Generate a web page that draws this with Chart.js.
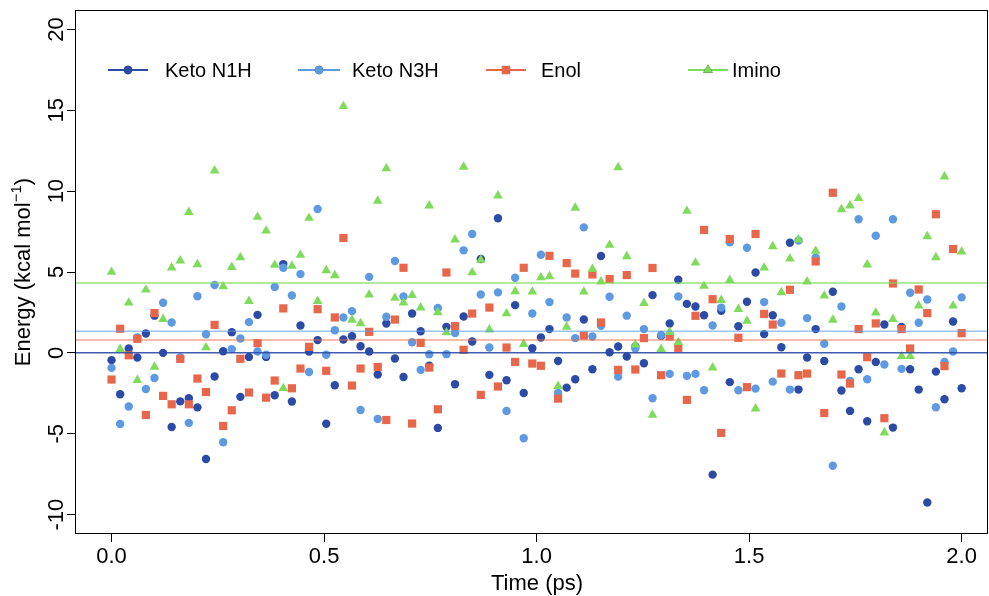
<!DOCTYPE html>
<html>
<head>
<meta charset="utf-8">
<script src="https://cdn.jsdelivr.net/npm/chart.js@4.4.1/dist/chart.umd.min.js"></script>
<style>
  html, body { margin: 0; padding: 0; background: #fff; }
</style>
</head>
<body>
<canvas id="myChart" width="989" height="596"></canvas>
<script>
// 100 snapshots from 0 to 2 ps
const times = Array.from({ length: 100 }, (_, i) => i * 2 / 99);

const ketoN1H = [
  -0.45, -2.56, 0.27, -0.29, 1.2, 2.3, 0.0, -4.58, -3.0, -2.8,
  -3.37, -6.56, -1.46, 0.1, 1.28, -2.72, -0.25, 2.35, -0.25, -2.62,
  5.49, -3.01, 1.69, 0.08, 0.79, -4.38, -2.0, 0.83, 1.03, 0.41,
  0.08, -1.34, 1.82, -0.35, -1.49, 2.43, 1.34, -0.8, -4.64, 1.61,
  -1.94, 2.25, 0.7, 5.8, -1.36, 8.32, -1.69, 2.95, -2.48, 0.29,
  0.95, 1.47, -0.5, -2.15, -1.63, 2.06, -1.01, 5.99, 0.04, 0.39,
  -0.23, 0.4, -0.64, 3.57, 1.05, 1.82, 4.52, 3.03, 2.87, 2.33,
  -7.53, 2.6, -1.81, 1.65, 3.16, 4.97, 1.16, 2.33, 0.35, 6.81,
  -2.27, -0.29, 1.47, -0.5, 3.78, -2.33, -3.59, -1.01, -4.23, -0.56,
  1.75, -4.62, 1.6, -1.01, -2.27, -9.25, -1.16, -2.87, 1.94, -2.19
];
const ketoN3H = [
  -0.93, -4.4, -3.32, 0.95, -2.23, -1.55, 3.1, 1.88, -0.29, -4.33,
  3.5, 1.15, 4.2, -5.53, 0.23, 0.89, 1.9, 0.08, -0.12, 4.07,
  5.26, 3.55, 4.87, -1.18, 8.9, -0.12, 1.4, 2.19, 2.58, -3.53,
  4.7, -4.09, 2.23, 5.68, 3.49, 0.66, -1.05, -0.08, 2.77, -0.08,
  1.22, 6.34, 7.35, 3.61, 0.33, 3.74, -3.59, 4.64, -5.28, 2.43,
  6.07, 3.14, -2.48, 2.19, 0.91, 7.76, 1.01, 1.67, 3.47, -1.47,
  2.3, 0.27, 1.47, -2.81, 1.1, -1.3, 3.49, -1.42, -1.3, -2.31,
  1.69, 2.8, 6.83, -2.31, 6.5, -2.21, 3.14, -1.78, 1.86, -2.27,
  6.95, 2.15, 5.9, 0.56, -6.98, 2.87, -1.73, 8.26, -1.63, 7.24,
  -0.72, 8.26, -0.99, 3.72, 1.86, 3.3, -3.36, -0.56, 0.08, 3.43
];
const enol = [
  -1.65, 1.49, -0.15, 0.87, -3.84, 2.46, -2.66, -3.18, -0.37, -3.18,
  -1.59, -2.42, 1.73, -4.52, -3.55, -0.37, -2.45, 0.6, -2.77, -1.71,
  2.75, -2.19, -0.97, 0.37, 2.7, -1.11, 2.19, 7.1, -2.02, -0.97,
  1.3, -0.87, -4.15, 2.06, 5.26, -4.37, 0.62, -0.91, -3.49, 4.97,
  1.65, 0.19, 2.43, -2.6, 2.8, -2.08, 0.33, -0.56, 5.26, -0.66,
  -0.8, 6.0, -2.83, 5.55, 4.9, 1.07, 4.85, 1.88, 4.56, -1.05,
  4.81, -1.03, 0.91, 5.25, -1.38, 1.01, 0.31, -2.91, 2.29, 7.6,
  3.32, -4.95, 7.04, 0.93, -2.12, 7.35, 2.41, 1.75, -1.28, 3.9,
  -1.38, -1.28, 5.65, -3.72, 9.9, -1.34, -1.9, 1.47, -0.27, 1.82,
  -4.04, 4.29, 1.47, 0.27, 3.92, 2.46, 8.57, -0.82, 6.42, 1.22
];
const imino = [
  5.0, 0.23, 3.1, -1.69, 3.9, -0.87, 2.08, 5.26, 5.7, 8.7,
  5.47, 0.33, 11.27, 4.1, 5.3, 5.9, 3.2, 8.4, 7.55, 5.43,
  -2.19, 5.37, 6.05, 8.34, 3.2, 5.1, 4.79, 15.25, 2.04, 1.82,
  3.59, 9.4, 11.4, 3.39, 3.1, 3.57, 2.8, 9.1, 2.5, 1.26,
  7.0, 11.5, 4.97, 5.75, 1.44, 9.72, 2.43, 3.8, 0.54, 3.78,
  4.66, 4.73, -2.06, 1.61, 8.96, 3.78, 5.18, 4.4, 6.67, 11.47,
  5.96, 0.5, 3.07, -3.84, 0.23, 1.28, 0.66, 8.77, 5.57, 4.13,
  -0.91, 3.26, 4.5, 2.7, 1.98, -3.45, 5.26, 6.58, 3.74, 5.82,
  7.0, 4.4, 6.3, 3.53, 2.04, 8.87, 9.1, 9.56, 5.45, 2.48,
  -4.93, 2.08, -0.21, -0.21, 2.91, 7.2, 5.9, 10.9, 2.91, 6.25
];

// average energy of each tautomer (horizontal lines)
const means = [0.0, 1.33, 0.8, 4.32];

const seriesNames = ["Keto N1H", "Keto N3H", "Enol", "Imino"];
const xTicks = [0, 0.5, 1, 1.5, 2];
const yTicks = [-10, -5, 0, 5, 10, 15, 20];

const colors = ["#2b4ba6", "#5e9ae2", "#e8674a", "#7fdb5c"];
const lineColors = ["rgba(43,75,166,0.9)", "rgba(94,154,226,0.6)", "rgba(232,103,74,0.6)", "rgba(127,219,92,0.8)"];
const styles = ["circle", "circle", "rect", "triangle"];
const radii = [4.2, 4.2, 5.8, 5.6];

const FONT = '"Liberation Sans", Arial, sans-serif';

const toPoints = (vals) => vals.map((v, i) => ({ x: times[i], y: v }));

const decorations = {
  id: "decorations",
  afterDatasetsDraw(chart) {
    const { ctx, chartArea: a, scales: { x, y } } = chart;
    ctx.save();
    // mean lines
    means.forEach((m, k) => {
      const py = y.getPixelForValue(m);
      ctx.strokeStyle = lineColors[k];
      ctx.lineWidth = 1.5;
      ctx.beginPath();
      ctx.moveTo(a.left, py);
      ctx.lineTo(a.right, py);
      ctx.stroke();
    });
    ctx.restore();
  },
  afterDraw(chart) {
    const { ctx, chartArea: a, scales: { x, y } } = chart;
    ctx.save();
    // box
    ctx.strokeStyle = "#000";
    ctx.lineWidth = 1;
    ctx.strokeRect(a.left + 0.5, a.top + 0.5, a.right - a.left - 1, a.bottom - a.top - 1);

    ctx.fillStyle = "#000";
    ctx.font = "22px " + FONT;
    // x tick labels
    ctx.textAlign = "center";
    ctx.textBaseline = "alphabetic";
    xTicks.forEach(v => ctx.fillText(v.toFixed(1), x.getPixelForValue(v), 563));
    // x title
    ctx.fillText("Time (ps)", 537, 590);

    // y tick labels, rotated as in base R
    yTicks.forEach(v => {
      ctx.save();
      ctx.translate(63, y.getPixelForValue(v));
      ctx.rotate(-Math.PI / 2);
      ctx.fillText(String(v), 0, 0);
      ctx.restore();
    });

    // y title with superscript
    ctx.save();
    ctx.translate(30, (a.top + a.bottom) / 2);
    ctx.rotate(-Math.PI / 2);
    const main = "Energy (kcal mol";
    const sup = "\u22121";
    const tail = ")";
    ctx.font = "22px " + FONT;
    const w1 = ctx.measureText(main).width;
    const w3 = ctx.measureText(tail).width;
    ctx.font = "15px " + FONT;
    const w2 = ctx.measureText(sup).width;
    let sx = -(w1 + w2 + w3) / 2;
    ctx.textAlign = "left";
    ctx.font = "22px " + FONT;
    ctx.fillText(main, sx, 0);
    ctx.font = "15px " + FONT;
    ctx.fillText(sup, sx + w1, -9);
    ctx.font = "22px " + FONT;
    ctx.fillText(tail, sx + w1 + w2, 0);
    ctx.restore();

    // legend
    const legY = 70;
    const items = [
      { x1: 108, x2: 148, tx: 165 },
      { x1: 298, x2: 340, tx: 352 },
      { x1: 486, x2: 526, tx: 541 },
      { x1: 688, x2: 728, tx: 732 }
    ];
    ctx.font = "20px " + FONT;
    ctx.textAlign = "left";
    ctx.textBaseline = "middle";
    items.forEach((it, k) => {
      ctx.strokeStyle = colors[k];
      ctx.lineWidth = 2;
      ctx.beginPath();
      ctx.moveTo(it.x1, legY);
      ctx.lineTo(it.x2, legY);
      ctx.stroke();
      Chart.helpers.drawPoint(ctx, { pointStyle: styles[k], radius: radii[k], borderWidth: 0 },
        (it.x1 + it.x2) / 2, legY);
      ctx.fillStyle = colors[k];
      ctx.fill();
      ctx.fillStyle = "#000";
      ctx.fillText(seriesNames[k], it.tx, legY + 1);
    });
    ctx.restore();
  }
};

const series = [ketoN1H, ketoN3H, enol, imino];

const myChart = new Chart(document.getElementById("myChart"), {
  type: "scatter",
  plugins: [decorations],
  data: {
    datasets: series.map((vals, k) => ({
      label: seriesNames[k],
      data: toPoints(vals),
      pointStyle: styles[k],
      pointRadius: radii[k],
      pointBackgroundColor: colors[k],
      pointBorderWidth: 0,
      order: 4 - k
    }))
  },
  options: {
    responsive: false,
    animation: false,
    devicePixelRatio: 1,
    layout: { autoPadding: false, padding: { top: 10, right: 1, left: 0, bottom: 0 } },
    plugins: {
      legend: { display: false },
      tooltip: { enabled: false }
    },
    scales: {
      x: {
        type: "linear",
        min: -0.086,
        max: 2.062,
        afterBuildTicks: s => { s.ticks = xTicks.map(v => ({ value: v })); },
        afterFit: s => { s.height = 62; },
        grid: { drawOnChartArea: false, drawTicks: true, tickLength: 8, color: "#000", lineWidth: 1 },
        border: { display: false },
        ticks: { display: false }
      },
      y: {
        type: "linear",
        min: -11.2,
        max: 21.2,
        afterBuildTicks: s => { s.ticks = yTicks.map(v => ({ value: v })); },
        afterFit: s => { s.width = 75; },
        grid: { drawOnChartArea: false, drawTicks: true, tickLength: 8, color: "#000", lineWidth: 1 },
        border: { display: false },
        ticks: { display: false }
      }
    }
  }
});
</script>
</body>
</html>
